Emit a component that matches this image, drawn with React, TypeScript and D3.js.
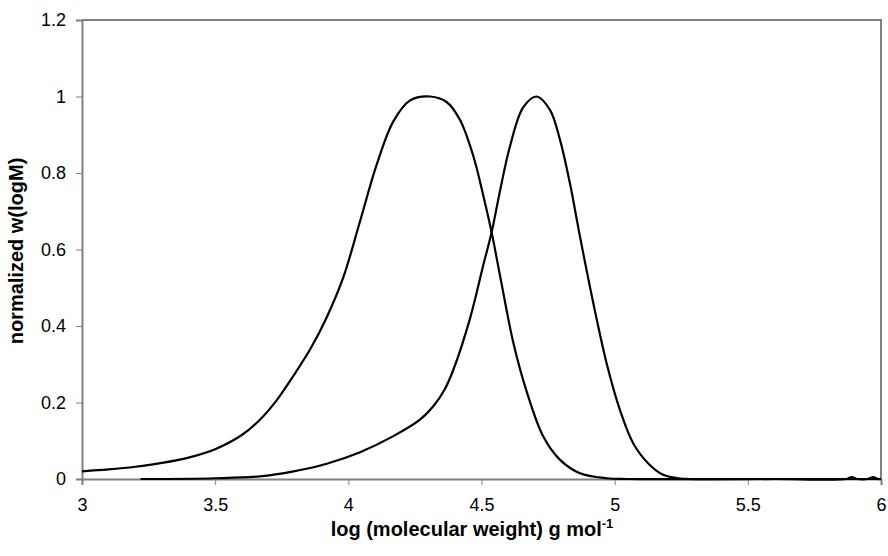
import React, { useRef, useEffect } from "react";
import * as d3 from "d3";

// broad distribution (peak near logM 4.3)
const logMA = [3.0, 3.1, 3.2, 3.3, 3.4, 3.5, 3.6, 3.668, 3.73, 3.794, 3.86, 3.919, 3.981, 4.044, 4.107, 4.169, 4.232, 4.307, 4.37, 4.419, 4.469, 4.507, 4.538, 4.57, 4.62, 4.67, 4.732, 4.795, 4.87, 4.97, 5.05, 5.5, 6.0];
const wA = [0.02, 0.025, 0.032, 0.042, 0.056, 0.078, 0.115, 0.155, 0.205, 0.27, 0.343, 0.423, 0.527, 0.674, 0.823, 0.935, 0.99, 1.0, 0.985, 0.939, 0.845, 0.74, 0.645, 0.53, 0.355, 0.228, 0.111, 0.05, 0.015, 0.002, 0.0, 0.0, 0.0];

// narrow distribution (peak near logM 4.7)
const logMB = [3.22, 3.5, 3.668, 3.794, 3.919, 4.044, 4.169, 4.269, 4.319, 4.36, 4.394, 4.457, 4.507, 4.538, 4.57, 4.607, 4.657, 4.707, 4.757, 4.795, 4.832, 4.87, 4.92, 4.97, 5.02, 5.07, 5.13, 5.18, 5.24, 5.28, 5.6, 5.87, 5.89, 5.91, 5.95, 5.97, 5.99, 6.0];
const wB = [0.0, 0.002, 0.007, 0.02, 0.04, 0.07, 0.112, 0.155, 0.19, 0.232, 0.285, 0.42, 0.56, 0.645, 0.755, 0.87, 0.972, 1.0, 0.965, 0.886, 0.773, 0.633, 0.459, 0.302, 0.18, 0.093, 0.038, 0.012, 0.002, 0.0, 0.0, 0.0, 0.005, 0.0, 0.0, 0.005, 0.0, 0.0];

const xTicks = [3, 3.5, 4, 4.5, 5, 5.5, 6];
const yTicks = [0, 0.2, 0.4, 0.6, 0.8, 1, 1.2];

const App = () => {
  const svgRef = useRef<SVGSVGElement>(null);
  const width = 888;
  const height = 556;
  const margin = { top: 20, right: 7, bottom: 77, left: 82 };

  useEffect(() => {
    const svg = d3.select(svgRef.current);
    svg.selectAll("*").remove();

    const x = d3.scaleLinear().domain([3, 6]).range([margin.left, width - margin.right]);
    const y = d3.scaleLinear().domain([0, 1.2]).range([height - margin.bottom, margin.top]);

    const grey = "#808080";
    const font = "Liberation Sans, Arial, sans-serif";

    // plot frame (top and right)
    svg
      .append("path")
      .attr("d", `M${x(3)},${y(1.2)}H${x(6)}V${y(0)}`)
      .attr("fill", "none")
      .attr("stroke", grey)
      .attr("stroke-width", 2);

    const yAxis = svg
      .append("g")
      .attr("transform", `translate(${x(3)},0)`)
      .call(d3.axisLeft(y).tickValues(yTicks).tickSize(6).tickPadding(10).tickFormat((d) => String(d)));
    yAxis.select(".domain").attr("stroke", grey).attr("stroke-width", 2);
    yAxis.selectAll(".tick line").attr("stroke", grey);
    yAxis.selectAll("text").attr("font-family", font).attr("font-size", 18).attr("fill", "#000");

    const xAxis = svg
      .append("g")
      .attr("transform", `translate(0,${y(0)})`)
      .call(d3.axisBottom(x).tickValues(xTicks).tickSize(6).tickPadding(13).tickFormat((d) => String(d)));
    xAxis.select(".domain").attr("stroke", grey).attr("stroke-width", 2);
    xAxis.selectAll(".tick line").attr("stroke", grey);
    xAxis.selectAll("text").attr("font-family", font).attr("font-size", 18).attr("fill", "#000");

    const drawSeries = (xs: number[], ws: number[]) => {
      const pts: [number, number][] = xs.map((v, i) => [x(v), y(ws[i])]);
      const gen = d3.line().curve(d3.curveCatmullRom.alpha(0.5));
      svg
        .append("path")
        .attr("d", gen(pts))
        .attr("fill", "none")
        .attr("stroke", "#000")
        .attr("stroke-width", 2.2);
    };

    drawSeries(logMA, wA);
    drawSeries(logMB, wB);

    // axis titles
    const xt = svg
      .append("text")
      .attr("x", 472)
      .attr("y", 536)
      .attr("text-anchor", "middle")
      .attr("font-family", font)
      .attr("font-weight", "bold")
      .attr("font-size", 20);
    xt.append("tspan").text("log (molecular weight) g mol");
    xt.append("tspan").attr("dy", -8).attr("font-size", 13).text("-1");

    svg
      .append("text")
      .attr("transform", `translate(23,251) rotate(-90)`)
      .attr("text-anchor", "middle")
      .attr("font-family", font)
      .attr("font-weight", "bold")
      .attr("font-size", 20)
      .text("normalized w(logM)");
  }, []);

  return (
    <div style={{ position: "absolute", left: 0, top: 0 }}>
      <svg ref={svgRef} width={width} height={height} style={{ display: "block", background: "#fff" }} />
    </div>
  );
};

export default App;
